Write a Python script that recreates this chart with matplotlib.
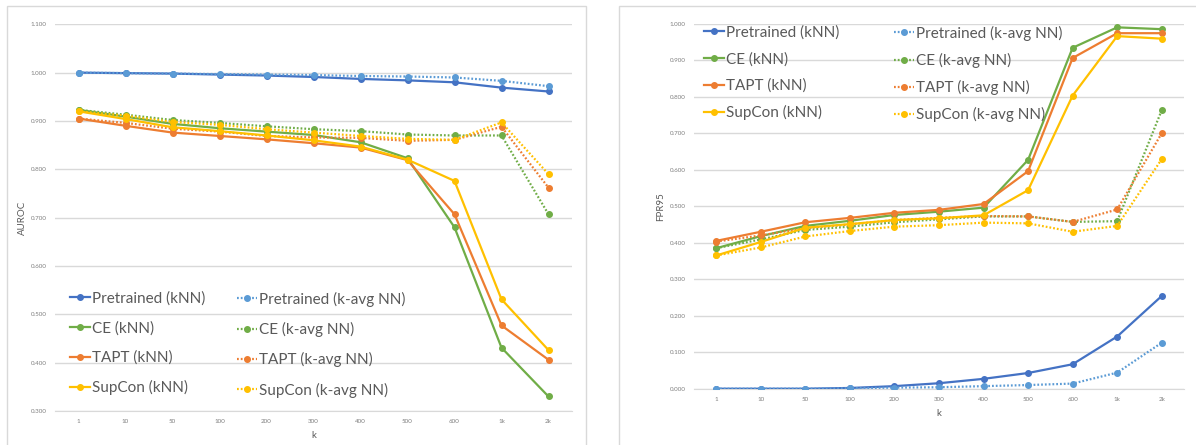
import matplotlib
matplotlib.use('Agg')
from matplotlib import pyplot
from matplotlib.patches import Rectangle
from matplotlib.ticker import MultipleLocator, FormatStrFormatter


# data
K_LABELS = ['1', '10', '50', '100', '200', '300', '400', '500', '600', '1k', '2k']
METHODS = ['Pretrained', 'CE', 'TAPT', 'SupCon']

# AUROC (left chart)
auroc_pretrained_knn = [1.000, 0.999, 0.998, 0.996, 0.994, 0.991, 0.987, 0.984, 0.980, 0.969, 0.961]
auroc_pretrained_avg = [1.000, 0.999, 0.998, 0.997, 0.996, 0.995, 0.993, 0.992, 0.990, 0.983, 0.972]
auroc_ce_knn = [0.923, 0.909, 0.894, 0.885, 0.878, 0.871, 0.856, 0.823, 0.680, 0.431, 0.330]
auroc_ce_avg = [0.923, 0.913, 0.902, 0.896, 0.889, 0.883, 0.879, 0.872, 0.870, 0.870, 0.707]
auroc_tapt_knn = [0.905, 0.890, 0.876, 0.869, 0.862, 0.854, 0.845, 0.819, 0.707, 0.477, 0.406]
auroc_tapt_avg = [0.905, 0.896, 0.884, 0.878, 0.869, 0.866, 0.865, 0.859, 0.861, 0.888, 0.762]
auroc_supcon_knn = [0.920, 0.904, 0.887, 0.879, 0.870, 0.860, 0.847, 0.820, 0.776, 0.531, 0.426]
auroc_supcon_avg = [0.920, 0.911, 0.898, 0.892, 0.883, 0.876, 0.869, 0.863, 0.861, 0.897, 0.790]

# FPR95 (right chart)
fpr_pretrained_knn = [0.000, 0.000, 0.000, 0.002, 0.007, 0.015, 0.027, 0.043, 0.067, 0.143, 0.254]
fpr_pretrained_avg = [0.000, 0.000, 0.000, 0.001, 0.003, 0.004, 0.007, 0.010, 0.014, 0.044, 0.126]
fpr_ce_knn = [0.385, 0.418, 0.446, 0.460, 0.476, 0.485, 0.496, 0.627, 0.934, 0.990, 0.985]
fpr_ce_avg = [0.385, 0.409, 0.435, 0.444, 0.456, 0.464, 0.472, 0.472, 0.457, 0.459, 0.763]
fpr_tapt_knn = [0.405, 0.430, 0.456, 0.468, 0.482, 0.490, 0.506, 0.596, 0.906, 0.974, 0.974]
fpr_tapt_avg = [0.403, 0.420, 0.440, 0.450, 0.462, 0.468, 0.473, 0.472, 0.457, 0.491, 0.700]
fpr_supcon_knn = [0.365, 0.402, 0.441, 0.451, 0.462, 0.467, 0.475, 0.544, 0.803, 0.966, 0.959]
fpr_supcon_avg = [0.365, 0.387, 0.417, 0.432, 0.444, 0.448, 0.455, 0.453, 0.430, 0.446, 0.629]

AUROC_KNN = [auroc_pretrained_knn, auroc_ce_knn, auroc_tapt_knn, auroc_supcon_knn]
AUROC_AVG = [auroc_pretrained_avg, auroc_ce_avg, auroc_tapt_avg, auroc_supcon_avg]
FPR_KNN = [fpr_pretrained_knn, fpr_ce_knn, fpr_tapt_knn, fpr_supcon_knn]
FPR_AVG = [fpr_pretrained_avg, fpr_ce_avg, fpr_tapt_avg, fpr_supcon_avg]

# plotting parameters
KNN_COLORS = ['#4472C4', '#70AD47', '#ED7D31', '#FFC000']
AVG_COLORS = ['#5B9BD5', '#70AD47', '#ED7D31', '#FFC000']
GRID_COLOR = '#d9d9d9'
TICK_COLOR = '#7f7f7f'
TEXT_COLOR = '#595959'
FONT = 'Lato'
W, H = 1196, 445

pyplot.rcParams['font.family'] = [FONT, 'DejaVu Sans']


def px(x, y):
    ''' pixel position (from top left) to figure fraction '''
    return x / W, 1 - y / H


def draw_chart(figure, rect, knn_data, avg_data, ylim, y_label, legend_pos):
    axes = figure.add_axes(rect)
    x = list(range(len(K_LABELS)))

    knn_handles, avg_handles = [], []
    for i, method in enumerate(METHODS):
        h1, = axes.plot(x, knn_data[i], color=KNN_COLORS[i], linewidth=1.6,
                        marker='o', markersize=4, label=method + ' (kNN)', zorder=3)
        h2, = axes.plot(x, avg_data[i], color=AVG_COLORS[i], linewidth=1.6,
                        linestyle=(0, (0.8, 0.9)), marker='o', markersize=4,
                        label=method + ' (k-avg NN)', zorder=3)
        knn_handles.append(h1)
        avg_handles.append(h2)

    # axes setup
    axes.set_xlim(-0.5, len(K_LABELS) - 0.5)
    axes.set_ylim(*ylim)
    axes.set_xticks(x)
    axes.set_xticklabels(K_LABELS)
    axes.yaxis.set_major_locator(MultipleLocator(0.1))
    axes.yaxis.set_major_formatter(FormatStrFormatter('%.3f'))
    axes.tick_params(length=0, labelsize=4.5, labelcolor=TICK_COLOR, pad=6)
    axes.grid(axis='y', color=GRID_COLOR, linewidth=1)
    axes.set_axisbelow(True)
    for side in ('top', 'right', 'left'):
        axes.spines[side].set_visible(False)
    axes.spines['bottom'].set_color(GRID_COLOR)
    axes.set_xlabel('k', fontsize=7, color=TEXT_COLOR, labelpad=5)
    axes.set_ylabel(y_label, fontsize=7, color=TEXT_COLOR, labelpad=3)

    # legend in two columns
    (x1, x2, y_top, spacing) = legend_pos
    common = dict(loc='upper left', frameon=False, fontsize=11, borderpad=0,
                  borderaxespad=0, handlelength=1.3, handletextpad=0.15,
                  labelspacing=spacing, labelcolor=TEXT_COLOR,
                  bbox_transform=figure.transFigure)
    legend1 = axes.legend(handles=knn_handles, bbox_to_anchor=px(x1, y_top), **common)
    axes.add_artist(legend1)
    axes.legend(handles=avg_handles, bbox_to_anchor=px(x2, y_top), **common)

    return axes


figure = pyplot.figure(figsize=(W / 100, H / 100), dpi=100)

# chart borders
for (bx, by, bw, bh) in [(7, 5.7, 579, 460), (619, 5.7, 600, 460)]:
    figure.patches.append(Rectangle(px(bx, by + bh), bw / W, bh / H, transform=figure.transFigure,
                                    fill=False, edgecolor=GRID_COLOR, linewidth=1))

draw_chart(figure, [55 / W, 1 - 411 / H, 517 / W, (411 - 24.3) / H],
           AUROC_KNN, AUROC_AVG, (0.3, 1.1), 'AUROC', (70, 237, 291.5, 1.0))
draw_chart(figure, [694 / W, 1 - 388.7 / H, 490 / W, 365 / H],
           FPR_KNN, FPR_AVG, (0.0, 1.0), 'FPR95', (704, 894, 25.5, 0.8))

figure.savefig('out.png', dpi=100)
